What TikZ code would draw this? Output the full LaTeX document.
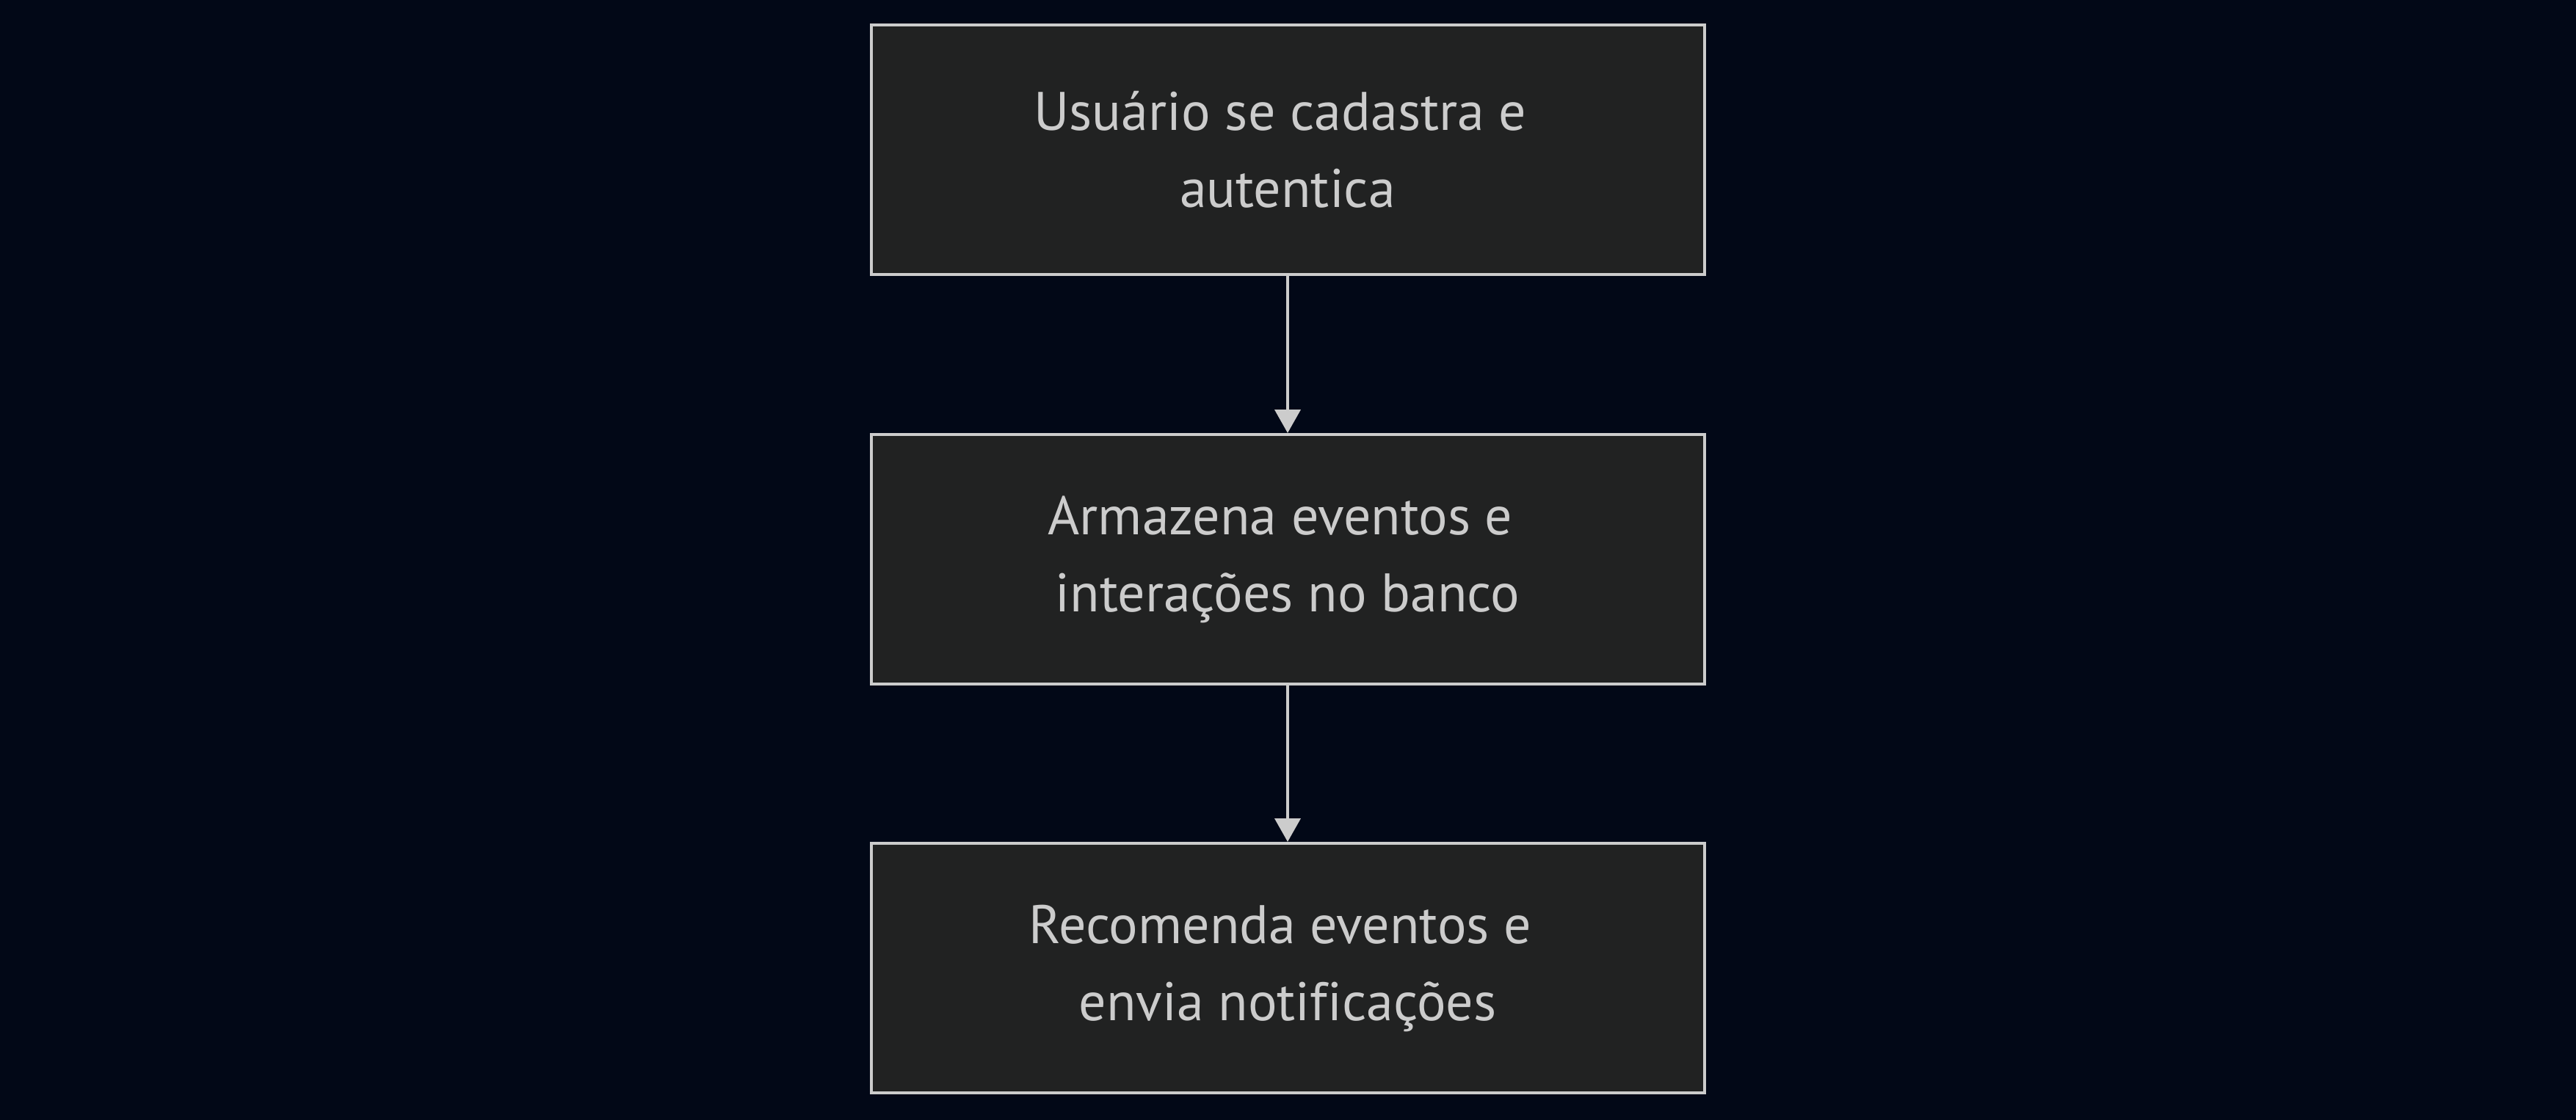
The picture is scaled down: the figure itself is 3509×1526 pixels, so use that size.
\documentclass[tikz,border=0pt]{standalone}
\usepackage{fontspec}
\setmainfont[Ligatures=NoCommon]{PT Sans}
\usetikzlibrary{arrows.meta}
\definecolor{bgc}{HTML}{020817}
\definecolor{boxfill}{HTML}{212222}
\definecolor{boxline}{HTML}{CCCCCC}
\definecolor{txt}{HTML}{CCCCCC}
\newcommand{\trailsp}{\hspace*{0.27em}}
\begin{document}
\begin{tikzpicture}[x=0.5pt,y=-0.5pt,
  flowbox/.style={draw=boxline, fill=boxfill, line width=2pt, minimum width=567.5pt, minimum height=170pt,
    text=txt, align=center, inner sep=0pt, font=\fontsize{37pt}{52.5pt}\selectfont},
  flowarrow/.style={draw=boxline, line width=2pt, -{Triangle[width=17.5pt,length=16pt]}}]
\fill[bgc] (0,0) rectangle (3509,1526);
\useasboundingbox (0,0) rectangle (3509,1526);
\node[flowbox] (a) at (1754,204) {Usuário se cadastra e\trailsp\\ autentica};
\node[flowbox] (b) at (1754,762) {Armazena eventos e\trailsp\\ interações no banco};
\node[flowbox] (c) at (1754,1319) {Recomenda eventos e\trailsp\\ envia notificações};
\draw[flowarrow] (a) -- (b);
\draw[flowarrow] (b) -- (c);
\end{tikzpicture}
\end{document}
